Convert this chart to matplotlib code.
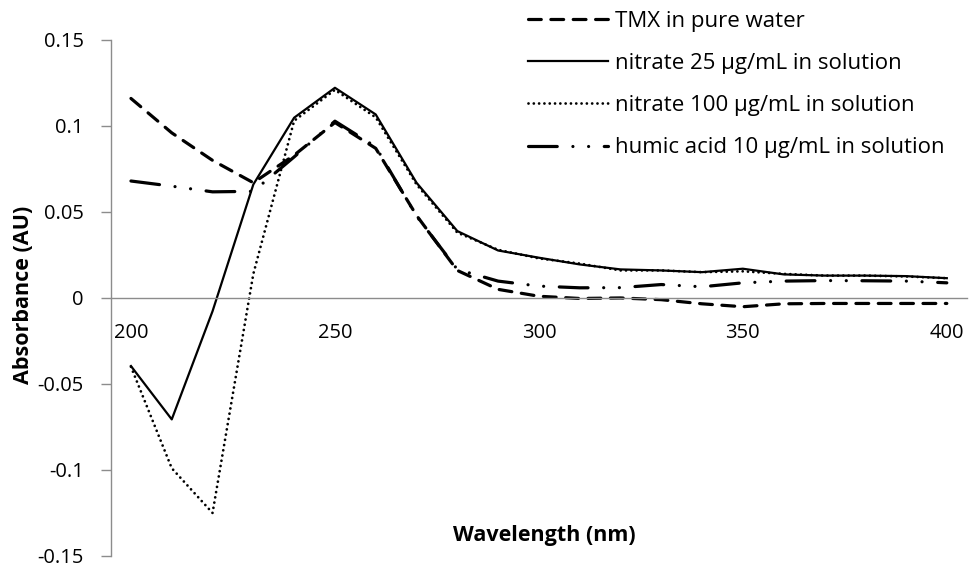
import matplotlib.pyplot as plt

plt.rcParams['font.family'] = ['Open Sans', 'DejaVu Sans']

# wavelength (nm) and absorbance (AU)
wavelength = [200, 210, 220, 230, 240, 250, 260, 270, 280, 290, 300,
              310, 320, 330, 340, 350, 360, 370, 380, 390, 400]
tmx_water = [0.116, 0.096, 0.080, 0.067, 0.083, 0.102, 0.087, 0.048, 0.016, 0.005, 0.001,
             -0.0003, 0.0, -0.001, -0.0034, -0.0051, -0.0034, -0.0032, -0.0032, -0.0032, -0.0032]
nitrate_25 = [-0.0396, -0.0706, -0.0077, 0.066, 0.1048, 0.1222, 0.1067, 0.067, 0.0389, 0.0276, 0.0234,
              0.0195, 0.0166, 0.016, 0.015, 0.017, 0.0137, 0.013, 0.013, 0.0127, 0.0115]
nitrate_100 = [-0.040, -0.099, -0.125, 0.014, 0.103, 0.121, 0.105, 0.066, 0.038, 0.028, 0.023,
               0.020, 0.016, 0.016, 0.015, 0.0155, 0.014, 0.013, 0.013, 0.0125, 0.0115]
humic_10 = [0.068, 0.065, 0.0617, 0.062, 0.082, 0.1028, 0.0879, 0.0476, 0.0166, 0.0098, 0.0069,
            0.0059, 0.006, 0.0078, 0.0065, 0.0088, 0.0098, 0.0101, 0.010, 0.0098, 0.0088]

labels = ["TMX in pure water",
          "nitrate 25 \u00b5g/mL in solution",
          "nitrate 100 \u00b5g/mL in solution",
          "humic acid 10 \u00b5g/mL in solution"]

fig = plt.figure(figsize=(9.75, 5.67), dpi=100)
ax = fig.add_axes([0.1134, 0.0195, 0.8786, 0.9100])

ax.plot(wavelength, tmx_water, color='black', lw=2.3, linestyle=(0, (4, 3)),
        dash_capstyle='round', label=labels[0])
ax.plot(wavelength, nitrate_25, color='black', lw=1.6, label=labels[1])
ax.plot(wavelength, nitrate_100, color='black', lw=2.0, linestyle=(0, (0.01, 1.9)),
        dash_capstyle='round', label=labels[2])
ax.plot(wavelength, humic_10, color='black', lw=2.3,
        linestyle=(0, (9.0, 4.9, 0.01, 4.9, 0.01, 4.9)),
        dash_capstyle='round', label=labels[3])

ax.set_xlim(195, 405)
ax.set_ylim(-0.15, 0.15)
ax.set_xticks([200, 250, 300, 350, 400])
ax.set_yticks([-0.15, -0.1, -0.05, 0, 0.05, 0.1, 0.15])
ax.set_yticklabels(['-0.15', '-0.1', '-0.05', '0', '0.05', '0.1', '0.15'])

for side in ['top', 'right']:
    ax.spines[side].set_visible(False)
ax.spines['bottom'].set_position(('data', 0))
ax.spines['bottom'].set_color('#8c8c8c')
ax.spines['left'].set_color('#8c8c8c')
ax.spines['bottom'].set_linewidth(1.0)
ax.spines['left'].set_linewidth(1.0)

ax.tick_params(axis='x', length=0, pad=18, labelsize=14.5)
ax.tick_params(axis='y', length=7.2, width=1.0, color='#8c8c8c', pad=12, labelsize=14.5)

fig.text(24 / 975, 1 - 295 / 567, "Absorbance (AU)", rotation=90, fontsize=15.5,
         fontweight='bold', ha='center', va='center')
fig.text(544 / 975, 1 - 535 / 567, "Wavelength (nm)", fontsize=15.5,
         fontweight='bold', ha='center', va='center')

ax.legend(loc='upper left', bbox_to_anchor=(528 / 975, 1 - 11 / 567),
          bbox_transform=fig.transFigure, frameon=False, fontsize=16,
          handlelength=3.6, handletextpad=0.3, labelspacing=0.95, borderpad=0,
          borderaxespad=0)

fig.savefig("out.png", dpi=100)
